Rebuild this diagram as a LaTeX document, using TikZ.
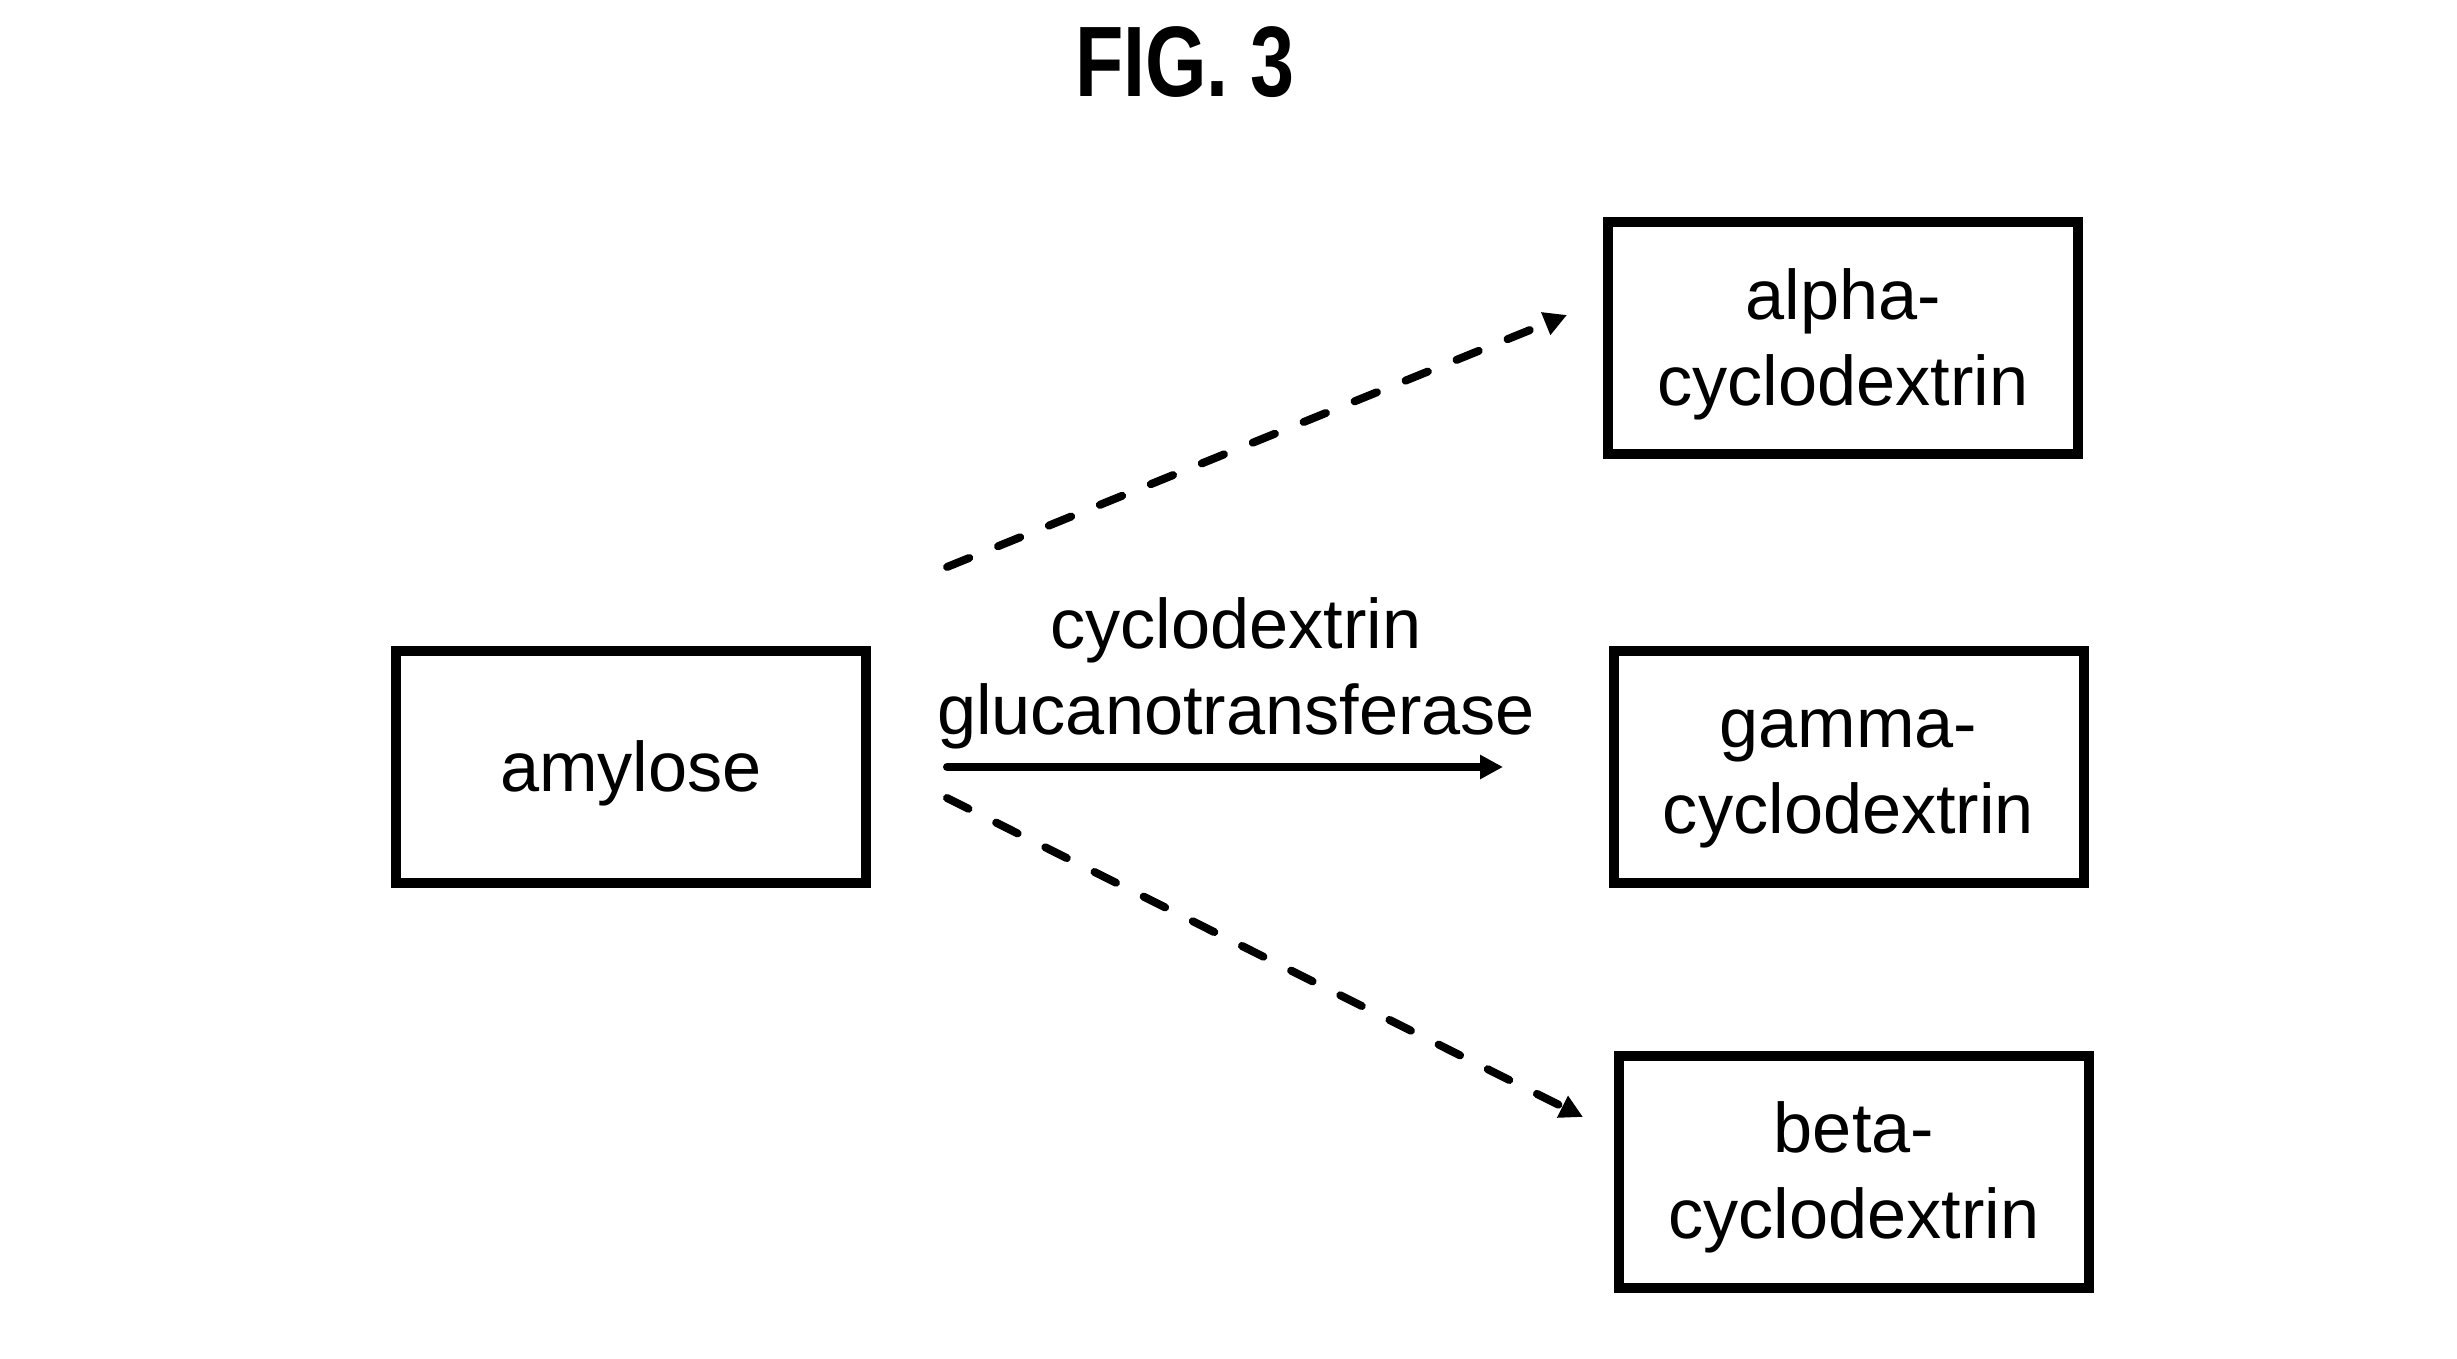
\documentclass[tikz,border=0pt]{standalone}
\usepackage{fontspec}
\setmainfont{Liberation Sans}
\usetikzlibrary{arrows.meta}
\newcommand\lowtext[1]{\raisebox{0pt}[\dimexpr\height+1.3mm\relax][\depth]{\begin{tabular}{@{}c@{}}#1\end{tabular}}}
\begin{document}
\begin{tikzpicture}[x=0.1mm,y=-0.1mm,
  box/.style={draw,line width=1mm,minimum width=47mm,minimum height=23.2mm,inner sep=0pt,font=\fontsize{20}{24.5}\selectfont},
  lbl/.style={align=center,inner sep=0pt,font=\fontsize{20}{24.5}\selectfont},
  conn/.style={line width=0.8mm,line cap=round,-{Triangle[length=2.3mm,width=2.3mm]}},
  dconn/.style={conn,dash pattern=on 2.4mm off 3.1mm}]
\useasboundingbox (0,0) rectangle (2457,1359);
\node[anchor=base,inner sep=0pt,xscale=0.79,font=\fontsize{28.5}{30}\selectfont\bfseries] (title) at (1185,97) {FIG. 3};
\node[box] (amylose) at (631,767.5) {\lowtext{amylose}};
\node[box] (alpha) at (1843,338.5) {\lowtext{alpha-\\cyclodextrin}};
\node[box] (gamma) at (1848.5,767) {\lowtext{gamma-\\cyclodextrin}};
\node[box] (beta) at (1854,1171.5) {\lowtext{beta-\\cyclodextrin}};
\coordinate (us) at (947,567);
\coordinate (ue) at (1567,315);
\coordinate (ls) at (947,798);
\coordinate (le) at (1583,1117);
\coordinate (ss) at (947,767);
\coordinate (se) at (1503,767);
\draw[dconn] (us) -- (ue);
\draw[dconn] (ls) -- (le);
\draw[conn] (ss) -- (se);
\node[lbl,anchor=base] (enzyme) at (1236,735) {cyclodextrin\\glucanotransferase};
\end{tikzpicture}
\end{document}
